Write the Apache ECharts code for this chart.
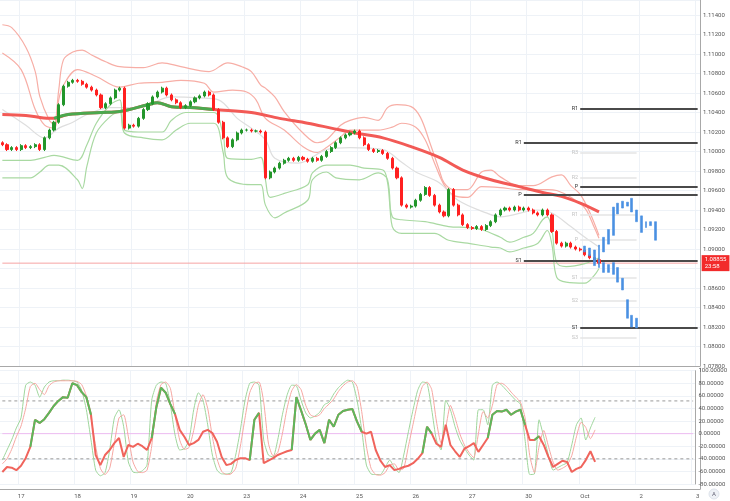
<!DOCTYPE html>
<html><head><meta charset="utf-8">
<script src="https://cdn.jsdelivr.net/npm/echarts@6/dist/echarts.min.js"></script>
<style>html,body{margin:0;padding:0;background:#fff}#c{width:730px;height:501px}</style>
</head><body><div id="c"></div>
<script>
// ---------- axis / tick labels ----------
const dayLabels = ['16','17','18','19','20','23','24','25','26','27','30','Oct','2','3'];

// ---------- price closes (2-hour candles) ----------
const firstOpen = 1.1009;
const closes = [1.1007,1.1002,1.1004,1.1002,1.1006,1.1004,1.1005,1.1007,1.1002,1.1014,
1.1022,1.1030,1.1048,1.1067,1.1071,1.1073,1.1072,1.1069,1.1066,1.1063,
1.1058,1.1045,1.1049,1.1055,1.1063,1.1065,1.1024,1.1027,1.1026,1.1034,
1.1043,1.1049,1.1056,1.1061,1.1065,1.1058,1.1053,1.1050,1.1045,1.1047,
1.1051,1.1055,1.1057,1.1061,1.1058,1.1043,1.1030,1.1014,1.1005,1.1012,
1.1019,1.1022,1.1022,1.1021,1.1021,1.1020,1.0973,1.0979,1.0983,1.0988,
1.0991,1.0993,1.0991,1.0994,1.0992,1.0990,1.0993,1.0991,1.0995,1.1000,
1.1004,1.1009,1.1014,1.1017,1.1019,1.1021,1.1014,1.1007,1.1002,1.1000,
1.1001,1.0998,1.0993,1.0983,1.0973,1.0945,1.0943,1.0944,1.0950,1.0956,
1.0963,1.0955,1.0945,1.0938,1.0934,1.0961,1.0945,1.0935,1.0925,1.0922,
1.0921,1.0923,1.0920,1.0924,1.0928,1.0935,1.0940,1.0942,1.0940,1.0943,
1.0940,1.0942,1.0940,1.0937,1.0935,1.0940,1.0935,1.0918,1.0906,1.0903,
1.0906,1.0902,1.0900,1.0899,1.0894,1.0891,1.0889,1.08855];
const wick = 0.00015;
const lastPrice = 1.08855;
const lastTime = '23:58';

// ---------- bands / averages: [slot, price] ----------
const upperOuter = [[0,1.1130],[2,1.1127],[5,1.1107],[7,1.1082],[8,1.1056],[10,1.1032],[11,1.1028],[12,1.1063],[13,1.1094],[15,1.1102],[17,1.1104],[19,1.1099],[22,1.1092],[25,1.1087],[30,1.1086],[34,1.1091],[38,1.1087],[44,1.1082],[48,1.1091],[51,1.1087],[53,1.1082],[55,1.1068],[56,1.1065],[58,1.1056],[60,1.1041],[64,1.1019],[67,1.1009],[69,1.1012],[72,1.1027],[74,1.1032],[77,1.1035],[80,1.1032],[82,1.1045],[84,1.1048],[87,1.1046],[89,1.1035],[91,1.1009],[93,1.0981],[94,1.0968],[96,1.0961],[99,1.0961],[102,1.0979],[104,1.0981],[106,1.0974],[110,1.0965],[113,1.0965],[117,1.0974],[119,1.0976],[121,1.0965],[123,1.0956],[125,1.0938],[127,1.0914]];
const upperInner = [[0,1.1101],[4,1.1084],[7,1.1043],[9,1.1027],[11,1.1024],[12,1.1053],[13,1.1068],[16,1.1084],[20,1.1077],[25,1.1066],[29,1.1070],[34,1.1071],[38,1.1073],[43,1.1070],[45,1.1061],[49,1.1063],[52,1.1061],[54,1.1053],[56,1.1034],[60,1.1022],[64,1.1005],[67,1.0999],[69,1.1004],[72,1.1015],[74,1.1022],[80,1.1022],[83,1.1025],[85,1.1029],[88,1.1025],[90,1.1012],[92,1.0988],[94,1.0966],[96,1.0955],[99,1.0953],[102,1.0964],[106,1.0963],[110,1.0961],[116,1.0961],[118,1.0960],[121,1.0953],[124,1.0942],[126,1.0922],[127,1.0911]];
const middleLine = [[0,1.1043],[5,1.1027],[9,1.1014],[12,1.1024],[15,1.1030],[18,1.1038],[23,1.1045],[27,1.1045],[31,1.1048],[36,1.1056],[42,1.1055],[46,1.1053],[50,1.1034],[53,1.1024],[56,1.1012],[58,1.0993],[63,1.0988],[69,1.1002],[74,1.1004],[81,1.1002],[85,1.0989],[88,1.0979],[93,1.0968],[97,1.0950],[103,1.0937],[106,1.0933],[114,1.0940],[117,1.0937],[121,1.0923],[124,1.0912],[127,1.0902]];
const lowerInner = [[0,1.0991],[6,1.0991],[9,1.0994],[11,1.0996],[16,1.0991],[18,1.1007],[20,1.1029],[23,1.1048],[25,1.1053],[26,1.1022],[29,1.1020],[34,1.1020],[36,1.1032],[39,1.1040],[45,1.1040],[47,1.1017],[48,1.0993],[53,1.0992],[55,1.0994],[56,1.0971],[57,1.0953],[60,1.0957],[65,1.0966],[66,1.0978],[69,1.0986],[74,1.0986],[77,1.0983],[81,1.0981],[82,1.0968],[83,1.0933],[85,1.0930],[90,1.0928],[95,1.0923],[99,1.0922],[102,1.0920],[106,1.0912],[108,1.0907],[111,1.0912],[113,1.0916],[115,1.0930],[116,1.0933],[117,1.0919],[118,1.0886],[120,1.0882],[124,1.0885],[127,1.0891]];
const lowerOuter = [[0,1.0973],[6,1.0973],[8,1.0979],[10,1.0986],[12,1.0986],[16,1.0971],[17,1.0962],[18,1.0985],[20,1.1019],[23,1.1036],[25,1.1041],[26,1.1019],[30,1.1014],[34,1.1012],[37,1.1022],[40,1.1029],[45,1.1029],[47,1.0999],[48,1.0973],[53,1.0966],[55,1.0966],[56,1.0945],[58,1.0932],[60,1.0937],[65,1.0950],[66,1.0971],[69,1.0979],[71,1.0973],[76,1.0971],[80,1.0978],[82,1.0971],[83,1.0923],[85,1.0916],[92,1.0916],[95,1.0909],[99,1.0906],[104,1.0902],[106,1.0901],[108,1.0897],[111,1.0901],[114,1.0906],[116,1.0919],[117,1.0904],[118,1.0871],[120,1.0866],[124,1.0865],[126,1.0873],[127,1.0880]];
const maLine = [[0,1.1038],[5,1.1037],[10,1.1034],[11,1.1034],[14,1.1038],[21,1.1040],[25,1.1041],[31,1.1048],[33,1.1050],[36,1.1046],[41,1.1045],[45,1.1043],[53,1.1040],[59,1.1034],[65,1.1029],[70,1.1024],[75,1.1019],[81,1.1014],[87,1.1005],[93,1.0994],[98,1.0981],[104,1.0971],[110,1.0964],[115,1.0958],[119,1.0954],[123,1.0947],[127,1.0938]];
const maGreenFrom = 11, maGreenTo = 45;

// ---------- projection bars ----------
const blueUpStart = 124;
const blueUpLow  = [1.0897,1.0893,1.0889,1.0887,1.0897,1.0905,1.0914,1.0936,1.0942,1.0944,1.0938,1.0928,1.0917,1.0922,1.0924,1.0909];
const blueUpHigh = [1.0903,1.0901,1.0899,1.0904,1.0912,1.0920,1.0943,1.0947,1.0949,1.0948,1.0952,1.0940,1.0934,1.0928,1.0928,1.0928];
const blueDnStart = 126;
const blueDnLow  = [1.0883,1.0881,1.0876,1.0876,1.0874,1.0866,1.0858,1.0829,1.0820,1.0819];
const blueDnHigh = [1.0891,1.0889,1.0886,1.0884,1.0886,1.0881,1.0870,1.0848,1.0832,1.0829];

// ---------- pivot levels ----------
const pivotA_names = ['R1','P','S1'];
const pivotA_values = [1.1009,1.0956,1.0888];
const pivotA_start = 111;
const pivotB_names = ['R1','P','S1'];
const pivotB_values = [1.1044,1.0964,1.0819];
const pivotB_start = 123;
const pivotD_names = ['R3','R2','R1','P','S1','S2','S3'];
const pivotD_values = [1.0999,1.0973,1.0935,1.0910,1.0871,1.0847,1.0809];
const pivotD_start = 123, pivotD_end = 135;

// ---------- oscillator ----------
const oscMain = [-61,-53,-54,-58,-51,-39,-21,22,17,23,
33,44,52,58,57,80,77,66,58,30,
-34,-50,-34,-26,-15,-7,-37,-18,-21,-16,
-20,-26,-7,42,73,65,47,31,6,-5,
-18,-15,-10,3,6,1,-13,-37,-50,-48,
-42,-39,-39,-42,22,33,-47,-43,-39,-34,
-31,-28,-26,58,37,15,-10,0,6,-15,
22,11,30,36,38,39,19,3,0,3,
-26,-43,-53,-50,-58,-56,-53,-51,-47,-40,
-31,11,0,-16,-21,14,-18,-28,-37,-24,
-20,-15,-29,-18,-7,30,36,35,38,30,
35,38,14,-10,-10,-4,-18,-37,-53,-48,
-43,-45,-61,-56,-53,-42,-28,-45];
const oscGreenRanges = [[6,19],[32,37],[53,55],[62,77],[90,92],[104,112],[114,115]];
const oscFast = [-42,-26,-10,9,25,77,82,77,58,74,
82,84,84,85,85,84,82,69,38,-10,
-58,-67,-62,-26,25,38,11,-45,-61,-62,
-59,-50,53,77,82,80,46,-2,-26,-24,
-10,38,65,53,14,-34,-58,-64,-64,-62,
-34,6,53,80,82,77,-10,-34,-37,-10,
30,61,77,76,53,33,25,28,34,46,
50,63,73,80,85,82,53,6,-50,-64,
-65,-65,-54,-42,-54,-62,-34,3,38,69,
82,80,38,-10,-26,53,38,11,-10,-23,
-34,-42,38,38,14,77,82,77,69,61,
53,47,-10,-65,-64,22,-5,-34,-58,-54,
-50,-46,-18,14,25,-10,9,26];
const oscSlow = [-48,-40,-25,-5,12,40,75,80,70,62,
76,82,84,84,84,84,83,78,60,25,
-20,-55,-65,-55,-15,25,30,-5,-45,-60,
-62,-58,-20,50,78,82,72,30,-10,-25,
-22,5,45,62,40,-5,-40,-60,-65,-64,
-55,-20,25,65,80,82,50,-15,-35,-30,
0,40,68,78,70,45,30,27,30,40,
47,55,67,76,82,84,75,35,-20,-55,
-65,-66,-62,-50,-48,-58,-55,-20,15,50,
75,82,70,20,-15,10,45,25,0,-18,
-30,-38,0,35,25,45,78,80,75,66,
58,50,25,-35,-62,-20,5,-20,-45,-58,
-55,-50,-35,-5,18,10,-8,6];
const oscZero = 0, oscUpperLevel = 52, oscLowerLevel = -40;

// ---------- build ----------
const categories = [];
dayLabels.forEach((d, di) => {
  let hours = [];
  if (di === 0) hours = [16,18,20,22];
  else if (di === dayLabels.length - 1) hours = [0];
  else for (let h = 0; h < 24; h += 2) hours.push(h);
  hours.forEach(h => categories.push(d + ' ' + String(h).padStart(2,'0') + ':00'));
});
const N = categories.length;
const isDayStart = (i) => categories[i] && categories[i].endsWith(' 00:00');

const candleData = closes.map((c, i) => {
  const o = i ? closes[i-1] : firstOpen;
  return [o, c, Math.min(o,c) - wick, Math.max(o,c) + wick];
});
function bars(start, lo, hi) {
  const out = new Array(N).fill('-');
  lo.forEach((l, k) => { out[start+k] = [l, hi[k], l, hi[k]]; });
  return out;
}
const level = (v) => [[0, v], [N-1, v]];
const maGreen = maLine.filter(p => p[0] >= maGreenFrom && p[0] <= maGreenTo);
const inGreen = (i) => oscGreenRanges.some(r => i >= r[0] && i <= r[1]);
const oscGreen = oscMain.map((v, i) => inGreen(i) ? v : null);

const dark = {color:'#4a4a4a', width:2, type:'solid'};
const darkLbl = {color:'#333'};
const faint = {color:'#e4e4e4', width:1.5, type:'solid'};
const faintLbl = {color:'#c4c4c4'};
const pivotData = [];
pivotA_values.forEach((v,k) => pivotData.push([{name:pivotA_names[k], coord:[pivotA_start, v], lineStyle:dark, label:darkLbl},{coord:[N-1, v]}]));
pivotB_values.forEach((v,k) => pivotData.push([{name:pivotB_names[k], coord:[pivotB_start, v], lineStyle:dark, label:darkLbl},{coord:[N-1, v]}]));
pivotD_values.forEach((v,k) => pivotData.push([{name:pivotD_names[k], coord:[pivotD_start, v], lineStyle:faint, label:faintLbl},{coord:[pivotD_end, v]}]));

const font = 'Roboto, "Noto Sans", sans-serif';
const gridCol = '#eef2f7';
const blue = '#4a90e2';
const bandLine = (data, color, z) => ({type:'line', xAxisIndex:0, yAxisIndex:0, data, symbol:'none', smooth:0.35, z:z||2,
  lineStyle:{color, width:1.2}, silent:true});

const option = {
  animation:false,
  textStyle:{fontFamily:font},
  grid:[
    {left:0, right:30, top:0, height:366},
    {left:0, right:30, top:370.7, height:113.3},
    {left:0, right:30, top:368, height:121}
  ],
  xAxis:[
    {gridIndex:0, type:'category', data:categories, boundaryGap:true,
     axisLine:{show:true, lineStyle:{color:'#a8a8a8'}}, axisTick:{show:false}, axisLabel:{show:false},
     splitLine:{show:true, interval:(i)=>isDayStart(i), lineStyle:{color:gridCol}}},
    {gridIndex:1, type:'category', data:categories, boundaryGap:true,
     axisLine:{show:false}, axisTick:{show:false}, axisLabel:{show:false},
     splitLine:{show:true, interval:(i)=>isDayStart(i), lineStyle:{color:gridCol}}},
    {gridIndex:2, type:'category', data:categories, boundaryGap:true,
     axisLine:{show:true, lineStyle:{color:'#a8a8a8'}}, axisTick:{show:false},
     axisLabel:{show:true, interval:(i)=>isDayStart(i), formatter:(v)=>v.split(' ')[0], fontSize:6, color:'#555', margin:4, fontFamily:font},
     splitLine:{show:false}}
  ],
  yAxis:[
    {gridIndex:0, type:'value', position:'right', min:1.078, max:1.11554, interval:0.002,
     axisLine:{show:true, lineStyle:{color:'#a8a8a8'}}, axisTick:{show:false},
     axisLabel:{fontSize:6, color:'#555', margin:3, formatter:(v)=>v.toFixed(5), showMaxLabel:false, fontFamily:font},
     splitLine:{show:true, lineStyle:{color:gridCol}}},
    {gridIndex:1, type:'value', position:'right', min:-80, max:100, interval:20,
     axisLine:{show:true, lineStyle:{color:'#a8a8a8'}}, axisTick:{show:false},
     axisLabel:{fontSize:6, color:'#555', margin:3, formatter:(v)=>v.toFixed(5), fontFamily:font},
     splitLine:{show:true, lineStyle:{color:gridCol}}},
    {gridIndex:2, type:'value', position:'right', min:0, max:1,
     axisLine:{show:true, lineStyle:{color:'#a8a8a8'}}, axisTick:{show:false}, axisLabel:{show:false}, splitLine:{show:false}}
  ],
  series:[
    // last price level line + its axis tag
    {type:'line', xAxisIndex:0, yAxisIndex:0, data:level(lastPrice), symbol:'none', silent:true, z:1,
     lineStyle:{color:'#f6a3a3', width:1},
     endLabel:{show:true, formatter:lastPrice.toFixed(5)+'\n'+lastTime, backgroundColor:'#f22a2a', color:'#fff',
               fontSize:6, lineHeight:7, padding:[1,3], distance:4, fontFamily:font}},
    bandLine(upperOuter, '#f7aea6'),
    bandLine(upperInner, '#f7aea6'),
    bandLine(middleLine, '#dedede'),
    bandLine(lowerInner, '#a9d9a2'),
    bandLine(lowerOuter, '#a9d9a2'),
    {type:'line', xAxisIndex:0, yAxisIndex:0, data:maLine, symbol:'none', smooth:0.35, z:3, silent:true,
     lineStyle:{color:'#f25a56', width:3}},
    {type:'line', xAxisIndex:0, yAxisIndex:0, data:maGreen, symbol:'none', smooth:0.35, z:4, silent:true,
     lineStyle:{color:'#4ba84e', width:3}},
    {type:'candlestick', xAxisIndex:0, yAxisIndex:0, data:candleData, barWidth:2.6, z:5, silent:true,
     itemStyle:{color:'#23962b', color0:'#ff2020', borderColor:'#23962b', borderColor0:'#ff2020', borderWidth:1},
     markLine:{silent:true, precision:5, symbol:['none','none'],
       label:{position:'start', fontSize:5.5, distance:2, formatter:'{b}', fontFamily:font},
       data: pivotData}},
    {type:'candlestick', xAxisIndex:0, yAxisIndex:0, data:bars(blueUpStart, blueUpLow, blueUpHigh), barWidth:2.4, z:6, silent:true,
     itemStyle:{color:blue, color0:blue, borderColor:blue, borderColor0:blue, borderWidth:0.6}},
    {type:'candlestick', xAxisIndex:0, yAxisIndex:0, data:bars(blueDnStart, blueDnLow, blueDnHigh), barWidth:2.4, z:6, silent:true,
     itemStyle:{color:blue, color0:blue, borderColor:blue, borderColor0:blue, borderWidth:0.6}},

    // oscillator levels
    {type:'line', xAxisIndex:1, yAxisIndex:1, data:level(oscZero), symbol:'none', silent:true, z:1,
     lineStyle:{color:'#eebcf2', width:1}},
    {type:'line', xAxisIndex:1, yAxisIndex:1, data:level(oscUpperLevel), symbol:'none', silent:true, z:1,
     lineStyle:{color:'#9a9a9a', width:1, type:[3,3]}},
    {type:'line', xAxisIndex:1, yAxisIndex:1, data:level(oscLowerLevel), symbol:'none', silent:true, z:1,
     lineStyle:{color:'#9a9a9a', width:1, type:[3,3]}},
    {type:'line', xAxisIndex:1, yAxisIndex:1, data:oscFast, symbol:'none', smooth:0.2, z:2, silent:true,
     lineStyle:{color:'#9fd69c', width:1}},
    {type:'line', xAxisIndex:1, yAxisIndex:1, data:oscSlow, symbol:'none', smooth:0.2, z:2, silent:true,
     lineStyle:{color:'#f6a7a2', width:1}},
    {type:'line', xAxisIndex:1, yAxisIndex:1, data:oscMain, symbol:'none', z:3, silent:true,
     lineStyle:{color:'#f0645c', width:2}},
    {type:'line', xAxisIndex:1, yAxisIndex:1, data:oscGreen, symbol:'none', z:4, silent:true, connectNulls:false,
     lineStyle:{color:'#5cb85c', width:2}},
    {type:'line', xAxisIndex:2, yAxisIndex:2, data:[], symbol:'none', silent:true}
  ],
  graphic:[
    {type:'circle', shape:{cx:714, cy:494, r:5}, style:{fill:'#eef1f6', stroke:'#dde2ea'}, silent:true},
    {type:'text', x:714, y:494, style:{text:'A', fontSize:6, fill:'#667', align:'center', verticalAlign:'middle', fontFamily:font}, silent:true}
  ]
};
const chart = echarts.init(document.getElementById('c'));
chart.setOption(option);
</script>
</body></html>
